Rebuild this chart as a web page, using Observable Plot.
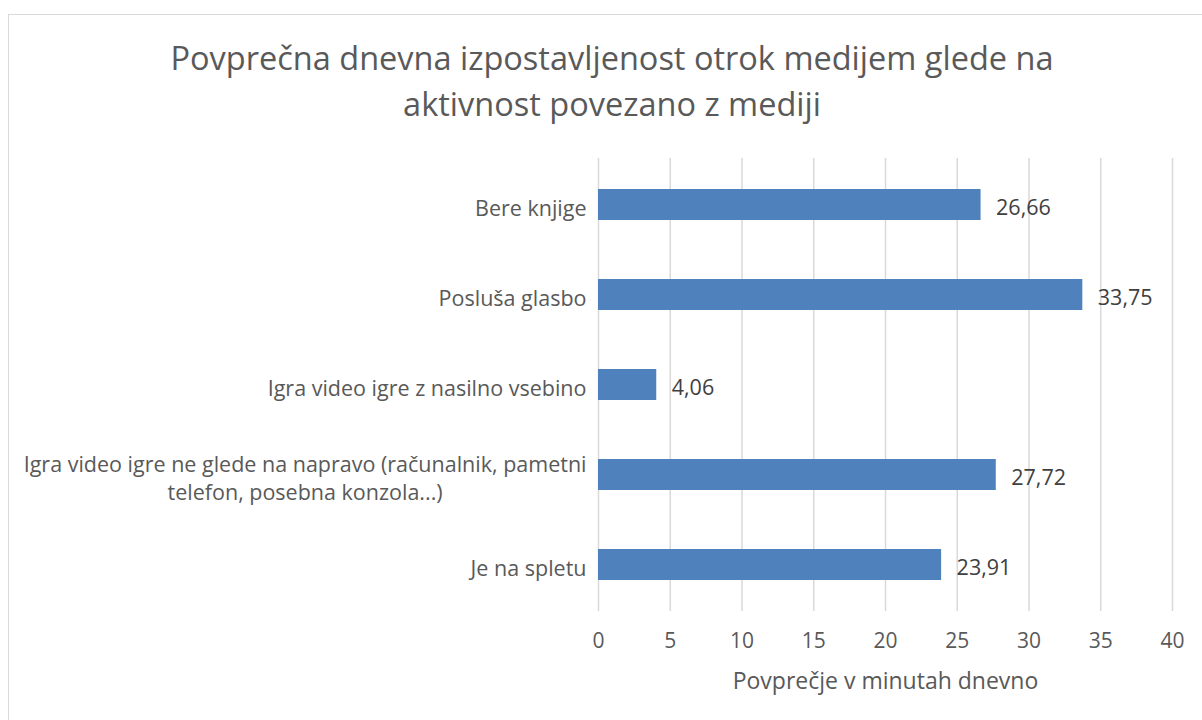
<!DOCTYPE html>
<html>
<head>
<meta charset="utf-8">
<script src="https://cdn.jsdelivr.net/npm/d3@7"></script>
<script src="https://cdn.jsdelivr.net/npm/@observablehq/plot@0.6"></script>
<style>
  html, body { margin: 0; padding: 0; background: #fff; }
  #wrap { position: relative; width: 1202px; height: 720px; overflow: hidden; font-family: "Open Sans", sans-serif; }
  #frame { position: absolute; left: 8px; top: 14px; width: 1220px; height: 740px; border: 1.5px solid #d9d9d9; box-sizing: border-box; }
  #title { position: absolute; left: 12px; width: 1200px; top: 35px; text-align: center; font-size: 32.5px; line-height: 46px; color: #595959; }
  #chart { position: absolute; left: 0; top: 0; }
</style>
</head>
<body>
<div id="wrap">
  <div id="frame"></div>
  <div id="chart"></div>
  <div id="title">Povprečna dnevna izpostavljenost otrok medijem glede na<br>aktivnost povezano z mediji</div>
</div>
<script>
const categories = [
  "Bere knjige",
  "Posluša glasbo",
  "Igra video igre z nasilno vsebino",
  "Igra video igre ne glede na napravo (računalnik, pametni telefon, posebna konzola...)",
  "Je na spletu"
];
const values = [26.66, 33.75, 4.06, 27.72, 23.91];
const xTicks = [0, 5, 10, 15, 20, 25, 30, 35, 40];
const xLabel = "Povprečje v minutah dnevno";

const data = categories.map((c, i) => ({category: c, value: values[i]}));
const wrapLabel = d => d.startsWith("Igra video igre ne glede")
  ? "Igra video igre ne glede na napravo (računalnik, pametni\ntelefon, posebna konzola...)"
  : d;
const fmt = v => v.toFixed(2).replace(".", ",");

const plot = Plot.plot({
  width: 1202,
  height: 720,
  marginLeft: 598,
  marginRight: 30,
  marginTop: 158,
  marginBottom: 109,
  style: {fontFamily: "'Open Sans', sans-serif", background: "transparent"},
  x: {domain: [0, 40], ticks: xTicks},
  y: {domain: categories, paddingInner: 0.658, paddingOuter: 0.329},
  marks: [
    Plot.gridX(xTicks, {stroke: "#d9d9d9", strokeOpacity: 1, strokeWidth: 1.5}),
    Plot.barX(data, {x: "value", y: "category", fill: "#4f81bd"}),
    Plot.text(data, {x: "value", y: "category", text: d => fmt(d.value), textAnchor: "start", dx: 15, dy: 3, fontSize: 21.5, fill: "#404040"}),
    Plot.axisX({ticks: xTicks, tickSize: 0, tickPadding: 22, fontSize: 21, color: "#595959", label: null}),
    Plot.axisY({tickSize: 0, tickPadding: 12, fontSize: 21.5, color: "#595959", tickFormat: wrapLabel, label: null, lineHeight: 1.33, dy: 2}),
    Plot.text([xLabel], {frameAnchor: "bottom", dy: 77, fontSize: 23, fill: "#595959"})
  ]
});
document.getElementById("chart").appendChild(plot);

// center the second line of the wrapped y label under the first, like the reference
plot.querySelectorAll("g[aria-label='y-axis tick label'] text").forEach(t => {
  const spans = t.querySelectorAll("tspan");
  if (spans.length > 1) {
    const w0 = spans[0].getComputedTextLength();
    for (let i = 1; i < spans.length; i++) {
      spans[i].setAttribute("text-anchor", "middle");
      spans[i].setAttribute("x", String(-w0 / 2));
    }
  }
});
</script>
</body>
</html>
